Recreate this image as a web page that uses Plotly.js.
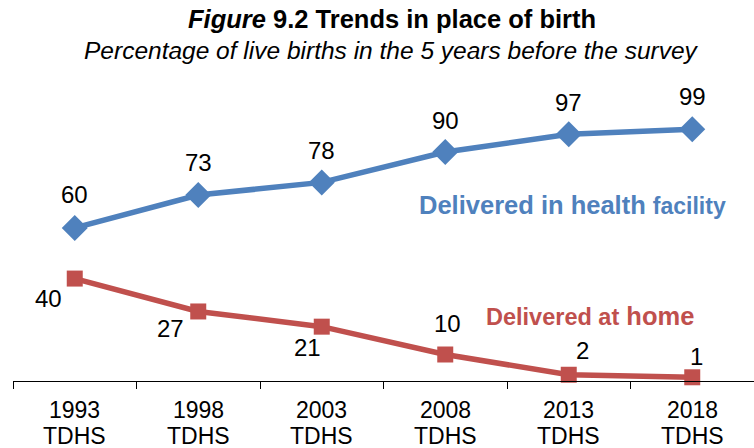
<!DOCTYPE html>
<html>
<head>
<meta charset="utf-8">
<script src="https://cdn.plot.ly/plotly-3.0.1.min.js"></script>
<style>html,body{margin:0;padding:0;background:#fff;}#chart{width:754px;height:448px;}</style>
</head>
<body>
<div id="chart"></div>
<script>
const years = ["1993", "1998", "2003", "2008", "2013", "2018"];
const survey = "TDHS";
const facilityValues = [60, 73, 78, 90, 97, 99];
const homeValues = [40, 27, 21, 10, 2, 1];
// label offsets (pixels) relative to each point
const facilityLabelShift = [[0, 33], [0, 33], [0, 32], [0, 32], [0, 32], [0, 33]];
const homeLabelShift = [[-26, -20], [-28, -17], [-14, -21], [2, 31], [14, 24], [4, 21]];

const BLUE = "#4F81BD";
const RED = "#C0504D";
const FONT = "Liberation Sans, Arial, sans-serif";

const plotTop = 80, plotBottom = 381, plotH = plotBottom - plotTop, plotL = 13, plotW = 741;
const py = px => (plotBottom - px) / plotH;   // pixel row -> paper y
const pxx = px => (px - plotL) / plotW;       // pixel col -> paper x

const traces = [
  {
    x: years, y: facilityValues, type: "scatter", mode: "lines+markers",
    line: {color: BLUE, width: 5.5},
    marker: {symbol: "diamond", size: 20, color: BLUE},
    hoverinfo: "skip", cliponaxis: false
  },
  {
    x: years, y: homeValues, type: "scatter", mode: "lines+markers",
    line: {color: RED, width: 5.5},
    marker: {symbol: "square", size: 16, color: RED},
    hoverinfo: "skip", cliponaxis: false
  }
];

const annotations = [];
// on a category axis, annotation x is the category's index
facilityValues.forEach((v, i) => annotations.push({
  x: i, y: v, xref: "x", yref: "y", text: String(v), showarrow: false,
  xshift: facilityLabelShift[i][0], yshift: facilityLabelShift[i][1],
  font: {family: FONT, size: 24, color: "#000"}
}));
homeValues.forEach((v, i) => annotations.push({
  x: i, y: v, xref: "x", yref: "y", text: String(v), showarrow: false,
  xshift: homeLabelShift[i][0], yshift: homeLabelShift[i][1],
  font: {family: FONT, size: 24, color: "#000"}
}));
// category labels (two lines, tighter spacing than Plotly's default)
years.forEach((yr, i) => {
  annotations.push({x: i, xref: "x", yref: "paper", y: py(410), yanchor: "middle",
    text: yr, showarrow: false, font: {family: FONT, size: 23, color: "#000"}});
  annotations.push({x: i, xref: "x", yref: "paper", y: py(436), yanchor: "middle",
    text: survey, showarrow: false, font: {family: FONT, size: 23, color: "#000"}});
});
annotations.push({
  xref: "paper", yref: "paper", x: pxx(572.5), y: py(205), xanchor: "center", yanchor: "middle",
  showarrow: false,
  text: "<b>Delivered in health <span style='font-size:23px'>facility</span></b>",
  font: {family: FONT, size: 25.5, color: BLUE}
});
annotations.push({
  xref: "paper", yref: "paper", x: pxx(590), y: py(316), xanchor: "center", yanchor: "middle",
  showarrow: false,
  text: "<b><span style='font-size:23.5px'>Delivered at</span> home</b>",
  font: {family: FONT, size: 25.5, color: RED}
});
annotations.push({
  xref: "paper", yref: "paper", x: pxx(392), y: py(19), xanchor: "center", yanchor: "middle",
  showarrow: false, borderpad: 0,
  text: "<b><i>Figure</i> 9.2 Trends in place of birth</b>",
  font: {family: FONT, size: 25.5, color: "#000"}
});
annotations.push({
  xref: "paper", yref: "paper", x: pxx(391), y: py(51), xanchor: "center", yanchor: "middle",
  showarrow: false, borderpad: 0,
  text: "<i>Percentage of live births in the 5 years before the survey</i>",
  font: {family: FONT, size: 24.5, color: "#000"}
});

const layout = {
  width: 754, height: 448,
  margin: {l: plotL, r: 0, t: plotTop, b: 448 - plotBottom},
  paper_bgcolor: "#fff", plot_bgcolor: "#fff",
  showlegend: false,
  font: {family: FONT, size: 19, color: "#000"},
  xaxis: {
    type: "category", range: [-0.5, 5.5], fixedrange: true,
    showline: true, linecolor: "#000", linewidth: 1,
    ticks: "outside", tickson: "boundaries", ticklen: 7, tickcolor: "#000", tickwidth: 1,
    showticklabels: false, showgrid: false, zeroline: false
  },
  yaxis: {
    range: [-0.47, 118.45], visible: false, showgrid: false, zeroline: false, fixedrange: true
  },
  annotations: annotations
};

Plotly.newPlot("chart", traces, layout, {staticPlot: true, displayModeBar: false});
</script>
</body>
</html>
